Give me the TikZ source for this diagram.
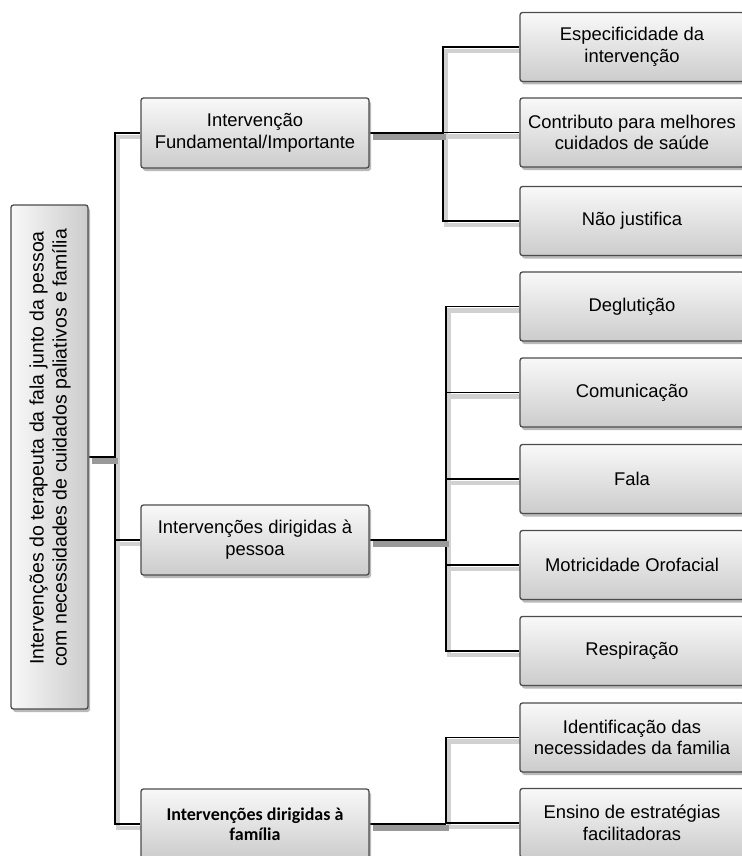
\documentclass[tikz,border=0pt]{standalone}
\usepackage{fontspec}
\setmainfont{Liberation Sans}
\newfontfamily\carl{Carlito}
\usetikzlibrary{shadows}
\pgfdeclarelayer{background}
\pgfsetlayers{background,main}
\tikzset{
  x=1pt, y=1pt,
  box/.style={draw=black!70, line width=1.3pt, rounded corners=2.5pt,
    top color=gray!5, bottom color=gray!40,
    minimum width=228pt, minimum height=70pt, align=center, inner sep=2pt,
    font=\fontsize{18.4}{21.8}\selectfont,
    drop shadow={shadow xshift=2pt, shadow yshift=-3pt, fill=black!50, opacity=0.55}},
  leaf/.style={box, minimum width=224pt, minimum height=69pt},
  rootbox/.style={draw=black!70, line width=1.3pt, rounded corners=2.5pt,
    left color=gray!5, right color=gray!40,
    minimum width=77pt, minimum height=504pt,
    drop shadow={shadow xshift=2pt, shadow yshift=-3pt, fill=black!50, opacity=0.55}},
  roottext/.style={rotate=90, align=center, font=\fontsize{19.5}{23}\selectfont, inner sep=0pt},
  conn/.style={line width=1.4pt, line join=miter,
    preaction={draw=black!18, line width=4.5pt, transform canvas={shift={(3pt,-4pt)}}}},
  mainconn/.style={line width=2.8pt,
    preaction={draw=black!40, line width=6pt, transform canvas={shift={(3pt,-4pt)}}}}
}
\begin{document}
\begin{tikzpicture}
\useasboundingbox (0,0) rectangle (741,-856);
% root
\node[rootbox] (root) at (49.5,-457) {};
\node[roottext] (rtxt) at (50,-448) {Intervenções do terapeuta da fala junto da pessoa\\com necessidades de cuidados paliativos e família};
% level 1
\node[box] (A) at (255,-133) {Intervenção\\Fundamental/Importante};
\node[box] (B) at (255,-540) {Intervenções dirigidas à\\pessoa};
\node[box, font=\carl\bfseries\fontsize{18}{20.5}\selectfont] (C) at (255,-824) {Intervenções dirigidas à\\família};
% leaves group A
\node[leaf] (A1) at (632,-47) {Especificidade da\\intervenção};
\node[leaf] (A2) at (632,-132.5) {Contributo para melhores\\cuidados de saúde};
\node[leaf] (A3) at (632,-221) {Não justifica};
% leaves group B
\node[leaf] (B1) at (632,-306.5) {Deglutição};
\node[leaf] (B2) at (632,-392.5) {Comunicação};
\node[leaf] (B3) at (632,-479) {Fala};
\node[leaf] (B4) at (632,-565) {Motricidade Orofacial};
\node[leaf] (B5) at (632,-651) {Respiração};
% leaves group C
\node[leaf] (C1) at (632,-737.5) {Identificação das\\necessidades da familia};
\node[leaf] (C2) at (632,-823) {Ensino de estratégias\\facilitadoras};
% junction coordinates
\coordinate (trunk) at (115,0);
\coordinate (gA) at (443,0);
\coordinate (gB) at (446,0);
\coordinate (gC) at (446,0);
\begin{pgfonlayer}{background}
  % trunk
  \draw[conn] (A.west) -- (A.west -| trunk) -- (C.west -| trunk) -- (C.west);
  \draw[conn] (B.west) -- (B.west -| trunk);
  \draw[mainconn] (root.east) -- (root.east -| trunk);
  % group A
  \draw[conn] (A1.west) -- (A1.west -| gA) -- (A3.west -| gA) -- (A3.west);
  \draw[conn] (A2.west) -- (A2.west -| gA);
  \draw[mainconn] (A.east) -- (A.east -| gA);
  % group B
  \draw[conn] (B1.west) -- (B1.west -| gB) -- (B5.west -| gB) -- (B5.west);
  \draw[conn] (B2.west) -- (B2.west -| gB);
  \draw[conn] (B3.west) -- (B3.west -| gB);
  \draw[conn] (B4.west) -- (B4.west -| gB);
  \draw[mainconn] (B.east) -- (B.east -| gB);
  % group C
  \draw[conn] (C1.west) -- (C1.west -| gC) -- (C2.west -| gC) -- (C2.west);
  \draw[mainconn] (C.east) -- (C.east -| gC);
\end{pgfonlayer}
\end{tikzpicture}
\end{document}
